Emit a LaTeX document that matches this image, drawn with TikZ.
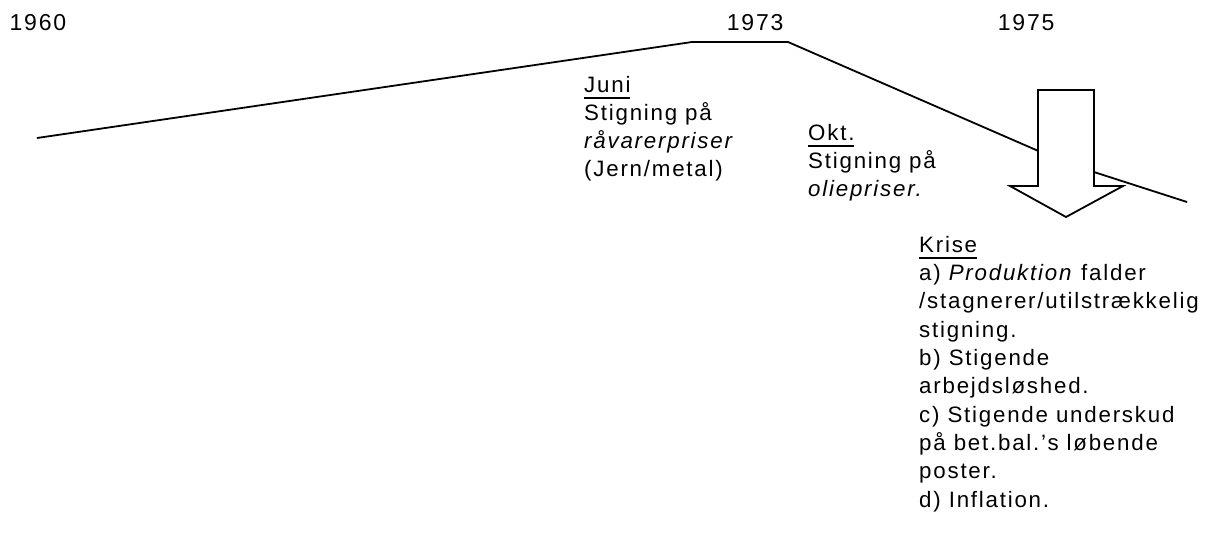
\documentclass[tikz,border=0pt]{standalone}
\usepackage{fontspec}
\setmainfont{Liberation Sans}[LetterSpace=8]
\newcommand\myul[1]{\setbox0\hbox{#1}\rlap{\rule[-6.5pt]{\wd0}{1.6pt}}\box0}
\begin{document}
\begin{tikzpicture}[x=1pt,y=-1pt,
  lbl/.style={inner sep=0pt,anchor=base west,align=left,font=\fontsize{22.3}{28.3}\selectfont},
  yearlbl/.style={inner sep=0pt,anchor=base west,font=\fontsize{23}{28}\selectfont},
  tl/.style={line width=1.8pt,line join=miter},
  bigarrow/.style={line width=1.8pt,fill=white,draw=black,line join=miter}]
\useasboundingbox (0,0) rectangle (1211,539);
% years
\node[yearlbl] (y1960) at (9.3,30) {1960};
\node[yearlbl] (y1973) at (726.6,30) {1973};
\node[yearlbl] (y1975) at (997.6,30) {1975};
% timeline
\coordinate (p0) at (37,138);
\coordinate (p1) at (692,42);
\coordinate (p2) at (788,42);
\coordinate (p3) at (1066,163);
\coordinate (p4) at (1187,202);
\draw[tl] (p0) -- (p1) -- (p2) -- (p3) -- (p4);
% big arrow
\draw[bigarrow] (1038,90) -- (1094,90) -- (1094,186) -- (1123,186) -- (1066,217)
  -- (1010,186) -- (1038,186) -- cycle;
% texts (base anchor = baseline of last line)
\node[lbl] (juni) at (584,176.9) {\myul{Juni}\\Stigning på\\\textit{råvarerpriser}\\(Jern/metal)};
\node[lbl] (okt) at (808,196.6) {\myul{Okt.}\\Stigning på\\\textit{oliepriser.}};
\node[lbl] (krise) at (919,507) {\myul{Krise}\\a) \textit{Produktion} falder\\/stagnerer/utilstrækkelig\\stigning.\\b) Stigende\\arbejdsløshed.\\c) Stigende underskud\\på bet.bal.’s løbende\\poster.\\d) Inflation.};
\end{tikzpicture}
\end{document}
